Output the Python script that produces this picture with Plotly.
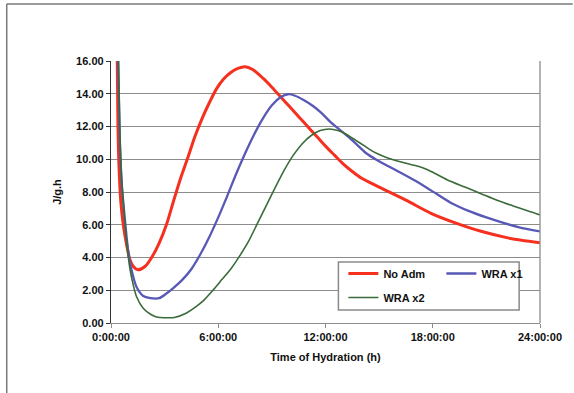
import plotly.graph_objects as go

# ---- data (hours, J/g.h) ----
t_noadm = [0.28, 0.35, 0.39, 0.45, 0.55, 0.7, 0.87, 1.05, 1.25, 1.5, 1.9, 2.3, 2.7, 3.1, 3.5, 3.9,
           4.3, 4.7, 5.1, 5.5, 5.9, 6.3, 6.7, 7.1, 7.5, 7.9, 8.5, 9.0, 9.5, 10.0, 10.5, 11.0, 11.5,
           12.0, 12.5, 13.0, 13.5, 14.0, 15.0, 16.5, 17.9, 19.3, 20.7, 22.2, 24.0]
v_noadm = [20.0, 16.0, 12.0, 9.5, 7.4, 5.9, 4.8, 3.9, 3.45, 3.25, 3.45, 4.05, 4.9, 6.0, 7.45, 8.85,
           10.1, 11.4, 12.5, 13.45, 14.3, 14.9, 15.3, 15.55, 15.65, 15.5, 14.95, 14.4, 13.8, 13.2, 12.6, 12.0, 11.4,
           10.8, 10.25, 9.7, 9.25, 8.85, 8.3, 7.5, 6.7, 6.1, 5.6, 5.2, 4.9]

t_wra1 = [0.3, 0.4, 0.5, 0.6, 0.78, 0.95, 1.06, 1.25, 1.43, 1.8, 2.2, 2.7, 3.1, 3.5, 4.0, 4.5, 5.0,
          5.5, 6.0, 6.5, 7.0, 7.5, 8.0, 8.5, 9.0, 9.5, 9.9, 10.3, 10.8, 11.3, 11.8, 12.3, 12.8,
          13.3, 13.8, 14.3, 14.8, 15.3, 16.0, 17.0, 17.9, 19.0, 20.0, 21.0, 22.0, 23.0, 24.0]
v_wra1 = [20.0, 16.0, 11.0, 8.5, 6.3, 4.5, 3.7, 2.8, 2.2, 1.65, 1.52, 1.52, 1.8, 2.15, 2.65, 3.3, 4.2,
          5.25, 6.45, 7.75, 9.1, 10.35, 11.5, 12.5, 13.3, 13.8, 13.97, 13.88, 13.6, 13.25, 12.8, 12.25, 11.8,
          11.35, 10.85, 10.35, 10.0, 9.7, 9.3, 8.7, 8.1, 7.35, 6.85, 6.45, 6.1, 5.8, 5.6]

t_wra2 = [0.35, 0.42, 0.5, 0.6, 0.78, 0.92, 1.06, 1.25, 1.43, 1.8, 2.26, 2.6, 3.0, 3.55, 4.2, 4.7,
          5.2, 5.7, 6.2, 6.7, 7.2, 7.7, 8.2, 8.7, 9.2, 9.7, 10.2, 10.7, 11.2, 11.7, 12.2, 12.7,
          13.2, 13.7, 14.2, 14.7, 15.2, 15.7, 16.5, 17.4, 18.1, 18.8, 19.8, 20.7, 21.6, 22.5, 23.3, 24.0]
v_wra2 = [20.0, 16.0, 11.5, 8.8, 6.1, 4.5, 3.3, 2.3, 1.6, 0.9, 0.5, 0.35, 0.32, 0.34, 0.6, 0.95,
          1.4, 2.0, 2.65, 3.3, 4.1, 5.0, 6.1, 7.2, 8.3, 9.35, 10.25, 10.95, 11.45, 11.75, 11.85, 11.75,
          11.5, 11.15, 10.8, 10.45, 10.2, 10.0, 9.75, 9.5, 9.15, 8.75, 8.3, 7.9, 7.5, 7.15, 6.85, 6.6]

x_tickvals = [0, 6, 12, 18, 24]
x_ticktext = ["0:00:00", "6:00:00", "12:00:00", "18:00:00", "24:00:00"]

FONT = "Liberation Sans, Arial, sans-serif"

fig = go.Figure()
fig.add_trace(go.Scatter(x=t_noadm, y=v_noadm, mode="lines", name="No Adm",
                         line=dict(color="#f5301f", width=3, shape="spline", smoothing=0.8),
                         legend="legend"))
fig.add_trace(go.Scatter(x=t_wra1, y=v_wra1, mode="lines", name="WRA x1",
                         line=dict(color="#5858b6", width=2.3, shape="spline", smoothing=0.8),
                         legend="legend"))
fig.add_trace(go.Scatter(x=t_wra2, y=v_wra2, mode="lines", name="WRA x2",
                         line=dict(color="#3a6b3a", width=1.6, shape="spline", smoothing=0.8),
                         legend="legend2"))

L, R, T, B = 111, 31, 61, 70
W, H = 574, 393
pw, ph = W - L - R, H - T - B

def px(xp):
    return (xp - L) / pw

def py(yp):
    return (H - B - yp) / ph

shapes = [
    # outer frame (top + left)
    dict(type="line", xref="paper", yref="paper", x0=px(6), x1=px(576), y0=py(4), y1=py(4),
         line=dict(color="#7a7a7a", width=1.5)),
    dict(type="line", xref="paper", yref="paper", x0=px(6), x1=px(6), y0=py(4), y1=py(395),
         line=dict(color="#7a7a7a", width=1.5)),
    # right plot border
    dict(type="line", xref="paper", yref="paper", x0=1, x1=1, y0=0, y1=1,
         line=dict(color="#8c8c8c", width=1.3)),
    # legend box
    dict(type="rect", xref="paper", yref="paper", x0=px(340), x1=px(522), y0=py(310), y1=py(262),
         line=dict(color="#8a8a8a", width=1.5), fillcolor="white", layer="above"),
]

fig.update_layout(
    width=W, height=H,
    margin=dict(l=L, r=R, t=T, b=B),
    paper_bgcolor="white", plot_bgcolor="white",
    font=dict(family=FONT, size=11, color="#111111"),
    showlegend=True,
    legend=dict(orientation="h", x=px(345), y=py(259), xanchor="left", yanchor="top",
                bgcolor="rgba(0,0,0,0)", borderwidth=0, entrywidth=53, entrywidthmode="pixels",
                font=dict(family=FONT, size=11, weight="bold", color="#111111"),
                tracegroupgap=0),
    legend2=dict(orientation="h", x=px(345), y=py(283), xanchor="left", yanchor="top",
                 bgcolor="rgba(0,0,0,0)", borderwidth=0,
                 font=dict(family=FONT, size=11, weight="bold", color="#111111")),
    shapes=shapes,
    xaxis=dict(range=[0, 24], tickvals=x_tickvals, ticktext=x_ticktext,
               showgrid=False, zeroline=False, showline=True, linecolor="#8c8c8c", linewidth=1.3,
               ticks="outside", ticklen=4, tickcolor="#8c8c8c",
               tickfont=dict(family=FONT, size=11, weight="bold", color="#111111"),
               title=dict(text="Time of Hydration (h)", standoff=10,
                          font=dict(family=FONT, size=11, weight="bold", color="#111111"))),
    yaxis=dict(range=[0, 16], dtick=2, tickformat=".2f",
               showgrid=True, gridcolor="#8c8c8c", gridwidth=1.3, zeroline=False,
               showline=True, linecolor="#333333", linewidth=1.3,
               ticks="outside", ticklen=4, tickcolor="#333333",
               tickfont=dict(family=FONT, size=11, weight="bold", color="#111111"),
               title=dict(text="J/g.h", standoff=12,
                          font=dict(family=FONT, size=11, weight="bold", color="#111111"))),
)

fig.write_html("out.html")
